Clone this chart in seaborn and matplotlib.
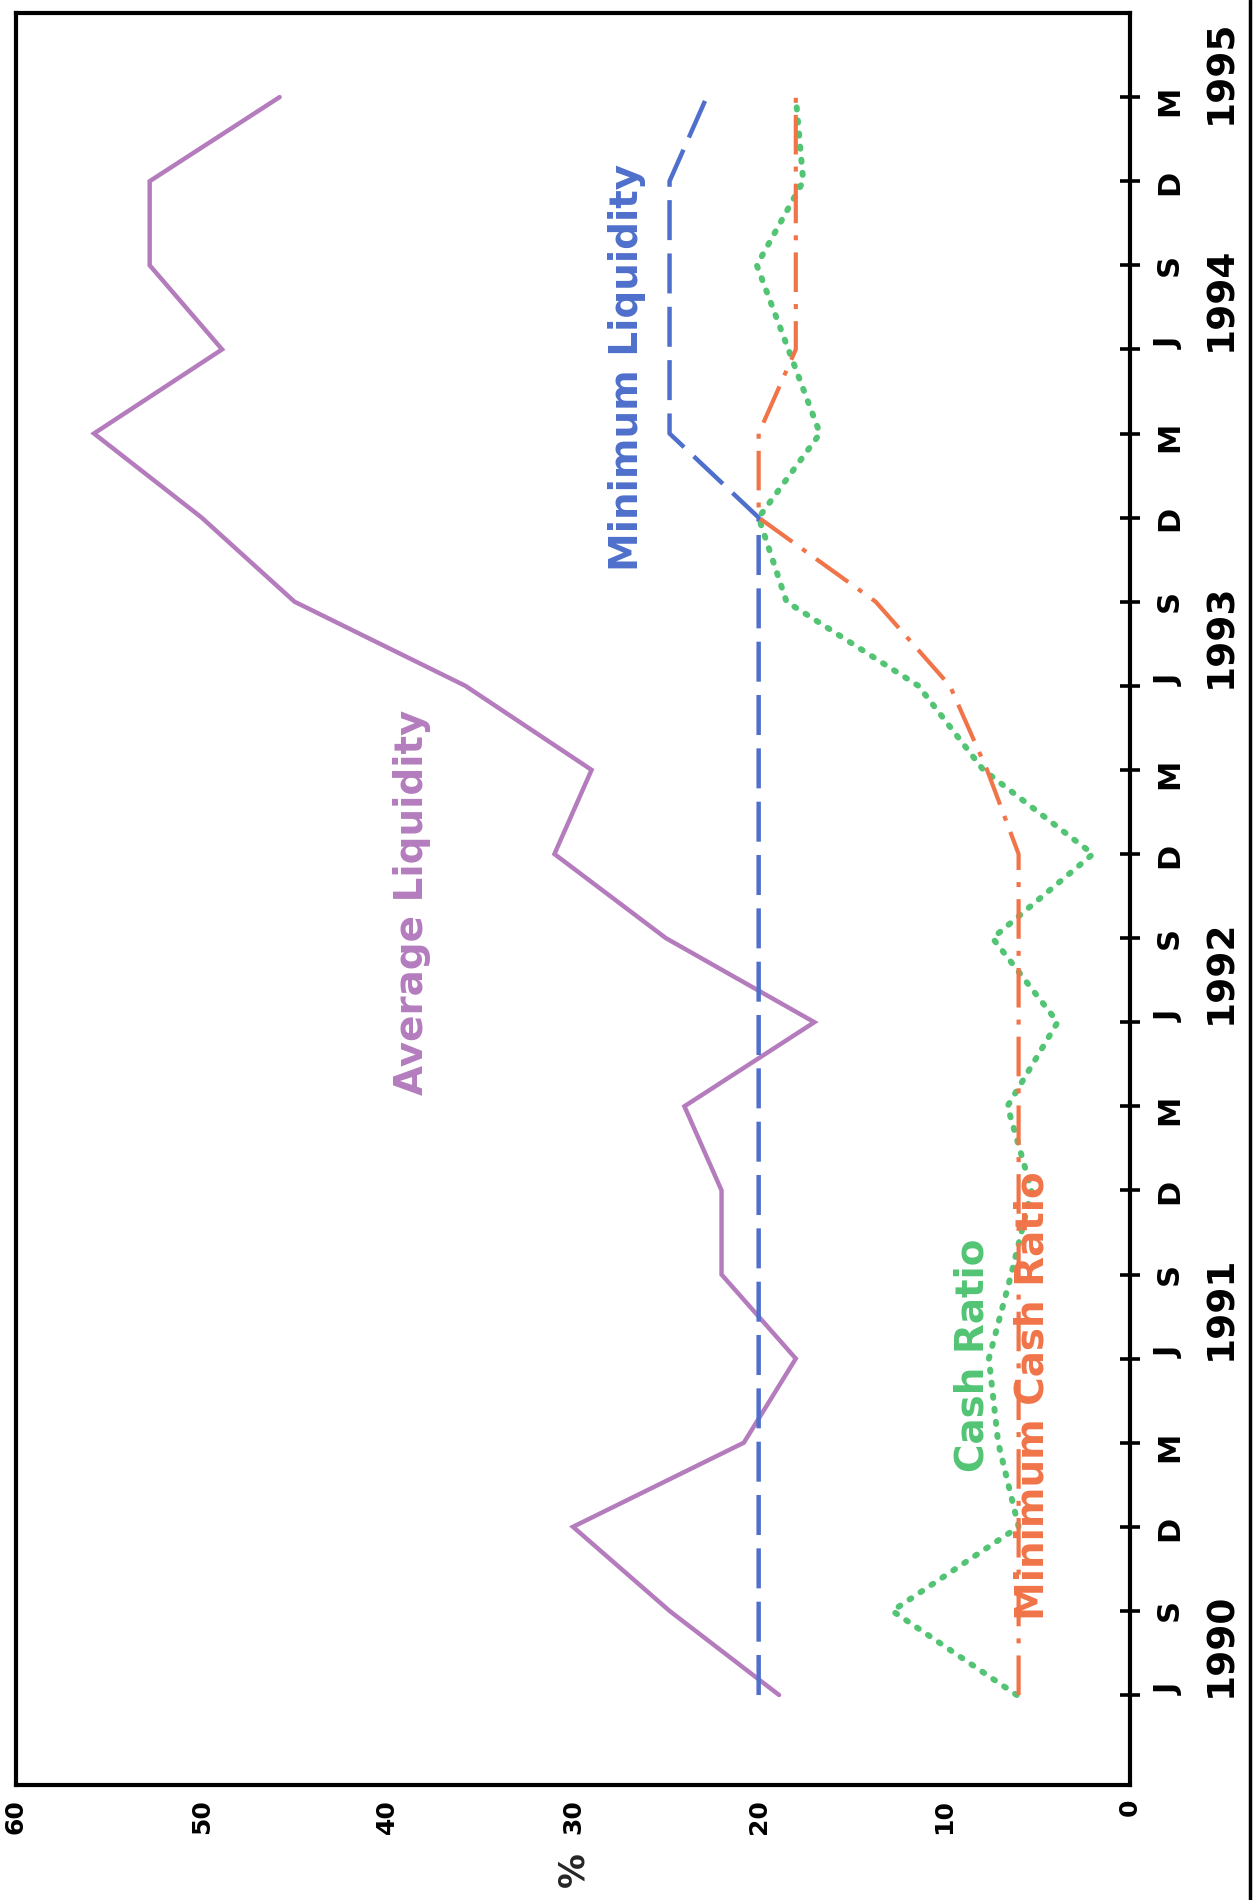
import numpy as np
import pandas as pd
import matplotlib
matplotlib.use("Agg")
import matplotlib.pyplot as plt
import matplotlib.transforms as mtransforms
from matplotlib.lines import Line2D
import seaborn as sns

# ---------------- data ----------------
quarter_labels = ["J", "S", "D", "M"] * 5
years = ["1990", "1991", "1992", "1993", "1994", "1995"]
pct_ticks = [0, 10, 20, 30, 40, 50, 60]

average_liquidity = [18.9, 24.8, 30.0, 20.8, 18.0, 22.0, 22.0, 24.0, 17.0, 25.0,
                     31.0, 29.0, 35.8, 45.0, 50.0, 55.8, 48.9, 52.8, 52.8, 45.8]
minimum_liquidity = [20, 20, 20, 20, 20, 20, 20, 20, 20, 20,
                     20, 20, 20, 20, 20, 24.8, 24.8, 24.8, 24.8, 22.8]
cash_ratio = [6.1, 12.8, 6.0, 7.1, 7.6, 6.4, 5.3, 6.6, 3.9, 7.4,
              2.0, 7.9, 11.4, 18.5, 20.0, 16.7, 18.4, 20.1, 17.6, 18.0]
minimum_cash_ratio = [6, 6, 6, 6, 6, 6, 6, 6, 6, 6,
                      6, 7.7, 9.7, 13.7, 20.0, 20.0, 18.0, 18.0, 18.0, 18.0]

series_names = ["Average Liquidity", "Minimum Liquidity", "Cash Ratio", "Minimum Cash Ratio"]
y_label = "%"

# ---------------- style ----------------
sns.set_theme(style="white")
plt.rcParams["font.family"] = ["DejaVu Sans"]

purple = "#b47cbd"
blue = "#4e6fcb"
green = "#52c474"
orange = "#f07448"

W, H = 1257, 1900
fig = plt.figure(figsize=(W / 100, H / 100), dpi=100)
fig.patch.set_facecolor("white")
ax_left, ax_right, ax_top, ax_bottom = 16, 1130, 13, 1785
ax = fig.add_axes([ax_left / W, (H - ax_bottom) / H,
                   (ax_right - ax_left) / W, (ax_bottom - ax_top) / H])
ax.set_facecolor("white")

q = np.arange(len(quarter_labels))
df = pd.DataFrame({
    "q": q,
    "avg": average_liquidity,
    "minliq": minimum_liquidity,
    "cash": cash_ratio,
    "mincash": minimum_cash_ratio,
})

sns.lineplot(data=df, x="avg", y="q", sort=False, estimator=None, ax=ax,
             color=purple, linewidth=3.2, solid_joinstyle="miter")
sns.lineplot(data=df, x="minliq", y="q", sort=False, estimator=None, ax=ax,
             color=blue, linewidth=3.2, linestyle=(0, (9.0, 3.0)))
sns.lineplot(data=df, x="cash", y="q", sort=False, estimator=None, ax=ax,
             color=green, linewidth=4.3, linestyle=(0, (0.35, 1.85)),
             dash_capstyle="round")
sns.lineplot(data=df, x="mincash", y="q", sort=False, estimator=None, ax=ax,
             color=orange, linewidth=3.0, linestyle=(0, (9.5, 2.9, 1.2, 2.9)))

# ---------------- axes ----------------
ax.set_xlim(60, 0)
ax.set_ylim(-1.07, 20.0)
ax.set_xticks(pct_ticks)
ax.set_xticklabels([str(t) for t in pct_ticks])
ax.yaxis.tick_right()
ax.set_yticks(q)
ax.set_yticklabels(quarter_labels)

ax.tick_params(axis="both", direction="inout", length=14, width=2.6,
               color="black", labelcolor="black")
ax.tick_params(axis="x", labelrotation=90, labelsize=18, pad=3)
ax.tick_params(axis="y", labelrotation=90, labelsize=22, pad=11)
for lab in ax.get_xticklabels() + ax.get_yticklabels():
    lab.set_fontweight("bold")

ax.set_ylabel("")
ax.set_xlabel(y_label, fontsize=25, fontweight="bold", rotation=90)
ax.xaxis.set_label_coords(0.5, -0.048)
ax.xaxis.label.set_va("center")

for s in ax.spines.values():
    s.set_visible(True)
    s.set_color("black")
    s.set_linewidth(3.0)
ax.grid(False)

# year labels beside the quarter letters
blend = mtransforms.blended_transform_factory(ax.transAxes, ax.transData)
for i, yr in enumerate(years):
    yq = min(4 * i + 0.6, q[-1] + 0.3)
    ax.text(1.0817, yq, yr, transform=blend, rotation=90, ha="center",
            va="center", fontsize=27, fontweight="bold", color="black",
            clip_on=False)

# series labels
label_pos = {
    "Average Liquidity": (38.65, 9.43, purple),
    "Minimum Liquidity": (27.1, 15.79, blue),
    "Cash Ratio": (8.5, 4.04, green),
    "Minimum Cash Ratio": (5.23, 3.56, orange),
}
for name in series_names:
    xv, yv, c = label_pos[name]
    ax.text(xv, yv, name, rotation=90, ha="center", va="center",
            fontsize=28, fontweight="bold", color=c)

# scanned page border on the right
fig.add_artist(Line2D([1250 / W, 1250 / W], [0, 1], transform=fig.transFigure,
                      color="black", linewidth=2.5))

fig.savefig("out.png", dpi=100, facecolor="white")
